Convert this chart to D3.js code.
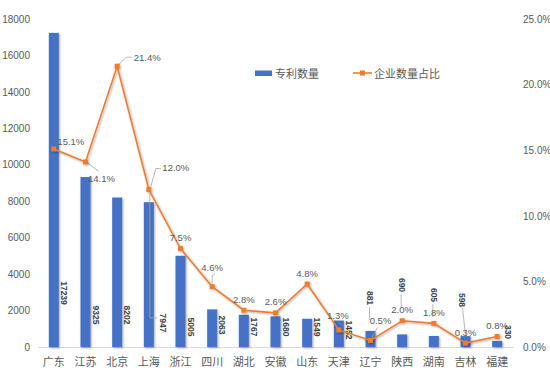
<!DOCTYPE html>
<html><head><meta charset="utf-8">
<script src="https://cdn.jsdelivr.net/npm/d3@7"></script>
<style>
body{margin:0;background:#fff}
text{font-family:"Noto Sans CJK SC","Noto Sans",sans-serif}
</style>
</head><body>
<svg id="c" width="550" height="377"></svg>
<script>
const categories=["广东","江苏","北京","上海","浙江","四川","湖北","安徽","山东","天津","辽宁","陕西","湖南","吉林","福建"];
const patents=[17239,9325,8202,7947,5005,2063,1767,1680,1549,1452,881,690,605,598,330];
const shares=[15.1,14.1,21.4,12.0,7.5,4.6,2.8,2.6,4.8,1.3,0.5,2.0,1.8,0.3,0.8];
const leftTicks=[0,2000,4000,6000,8000,10000,12000,14000,16000,18000];
const rightTicks=[0,5,10,15,20,25];
const seriesNames=["专利数量","企业数量占比"];

const svg=d3.select("#c");
const defs=svg.append("defs");
const f=defs.append("filter").attr("id","sh").attr("x","-50%").attr("y","-50%").attr("width","200%").attr("height","200%");
f.append("feDropShadow").attr("dx",1).attr("dy",1).attr("stdDeviation",1.3).attr("flood-color","#000").attr("flood-opacity",0.35);

const x=d3.scaleBand().domain(categories).range([38,513]);
const cx=c=>x(c)+x.bandwidth()/2;
const yL=d3.scaleLinear().domain([0,18000]).range([347,19]);
const yR=d3.scaleLinear().domain([0,25]).range([347,19]);
const grey="#595959";

// axes
const gl=svg.append("g").attr("transform","translate(38,0)")
  .call(d3.axisLeft(yL).tickValues(leftTicks).tickSize(0).tickPadding(8).tickFormat(d3.format("d")));
gl.select(".domain").remove();
gl.selectAll("text").attr("fill",grey).style("font-size","10px").style("font-family","'Liberation Sans','DejaVu Sans',sans-serif");

const gr=svg.append("g").attr("transform","translate(513,0)")
  .call(d3.axisRight(yR).tickValues(rightTicks).tickSize(0).tickPadding(10).tickFormat(d=>d.toFixed(1)+"%"));
gr.select(".domain").remove();
gr.selectAll("text").attr("fill",grey).style("font-size","10px").style("font-family","'Liberation Sans','DejaVu Sans',sans-serif");

const gb=svg.append("g").attr("transform","translate(0,347)")
  .call(d3.axisBottom(x).tickSize(0).tickPadding(11));
gb.select(".domain").attr("stroke","#d9d9d9");
gb.selectAll("text").attr("fill",grey).style("font-size","11px");

// bars
const bw=10;
svg.append("g").selectAll("rect").data(categories).join("rect")
  .attr("x",c=>cx(c)-bw/2).attr("width",bw)
  .attr("y",(c,i)=>yL(patents[i])).attr("height",(c,i)=>yL(0)-yL(patents[i]))
  .attr("fill","#4472C4").attr("filter","url(#sh)");

// bar labels (rotated); vertical center relative to baseline
const barLabelLift={0:54,1:32,2:32,3:24,4:20,5:22,6:20,7:20,8:20,9:17,10:49,11:62,12:52,13:47,14:15};
const barLabelDx={3:14,10:-1,11:0,12:0,13:-4,14:11};
const leaderGray="#a6a6a6";
svg.append("g").selectAll("text").data(categories).join("text")
  .attr("transform",(c,i)=>{
    const lx=cx(c)+(barLabelDx[i]!==undefined?barLabelDx[i]:10);
    const ly=yL(0)-barLabelLift[i];
    return `translate(${lx},${ly}) rotate(90)`;})
  .attr("text-anchor","middle").attr("dominant-baseline","central")
  .style("font-size","8.5px").style("font-weight","bold")
  .style("font-family","'Liberation Sans','DejaVu Sans',sans-serif")
  .attr("fill","#404040").text((c,i)=>patents[i]);

// leaders for some bar labels
const lg=svg.append("g").attr("stroke",leaderGray).attr("fill","none").attr("stroke-width",0.8);
{
  const i=3,c=categories[i];
  lg.append("path").attr("d",`M${cx(c)+1},${yR(shares[i])+4}V${yL(0)-29}H${cx(c)+8}`);
  [10,11,12].forEach(j=>{const cc=categories[j];
    lg.append("path").attr("d",`M${cx(cc)-1},${yL(0)-barLabelLift[j]+9}V${Math.min(yL(patents[j])-2,yL(0)-barLabelLift[j]+22)}`);});
  const cc=categories[13];
  lg.append("path").attr("d",`M${cx(cc)-3},${yL(0)-barLabelLift[13]+8}L${cx(cc)},${yL(patents[13])-1}`);
}

// line
const line=d3.line().x((d,i)=>cx(categories[i])).y(d=>yR(d));
const lgp=svg.append("g").attr("filter","url(#sh)");
lgp.append("path").datum(shares).attr("d",line).attr("fill","none").attr("stroke","#ED7D31").attr("stroke-width",1.6);
lgp.selectAll("rect").data(shares).join("rect")
  .attr("x",(d,i)=>cx(categories[i])-2.5).attr("y",d=>yR(d)-2.5).attr("width",5).attr("height",5).attr("fill","#ED7D31");

// line labels
const off={0:[17,7],1:[16,-16],2:[30,9],3:[27,22],5:[0,19],9:[-1,14],10:[10,20]};
svg.append("g").selectAll("text").data(shares).join("text")
  .attr("x",(d,i)=>cx(categories[i])+(off[i]?off[i][0]:0))
  .attr("y",(d,i)=>yR(d)-(off[i]?off[i][1]:11))
  .attr("text-anchor","middle").attr("dominant-baseline","central")
  .style("font-size","9.5px").style("font-family","'Liberation Sans','DejaVu Sans',sans-serif")
  .attr("fill",grey).text(d=>d.toFixed(1)+"%");
// line label leaders
{
  const p=i=>[cx(categories[i]),yR(shares[i])];
  let [a,b]=p(1); lg.append("path").attr("d",`M${a+2},${b+1}L${a+13},${b+9}`);
  [a,b]=p(2); lg.append("path").attr("d",`M${a+2},${b-2}L${a+9},${b-9}H${a+15}`);
  [a,b]=p(3); lg.append("path").attr("d",`M${a+2},${b-3}L${a+7},${b-21}H${a+12}`);
  [a,b]=p(5); lg.append("path").attr("d",`M${a},${b-3}V${b-11}L${a+3},${b-13}`);
  [a,b]=p(10); lg.append("path").attr("d",`M${a+1},${b-2}L${a+7},${b-13}`);
}

// legend
const leg=svg.append("g");
leg.append("rect").attr("x",255).attr("y",70.5).attr("width",17).attr("height",5.5).attr("fill","#4472C4");
leg.append("text").attr("x",275).attr("y",73).attr("dominant-baseline","central").style("font-size","11px").attr("fill",grey).text(seriesNames[0]);
leg.append("line").attr("x1",353).attr("x2",372).attr("y1",73).attr("y2",73).attr("stroke","#ED7D31").attr("stroke-width",1.6);
leg.append("rect").attr("x",360).attr("y",70.5).attr("width",5).attr("height",5).attr("fill","#ED7D31");
leg.append("text").attr("x",374).attr("y",73).attr("dominant-baseline","central").style("font-size","11px").attr("fill",grey).text(seriesNames[1]);
</script>
</body></html>
